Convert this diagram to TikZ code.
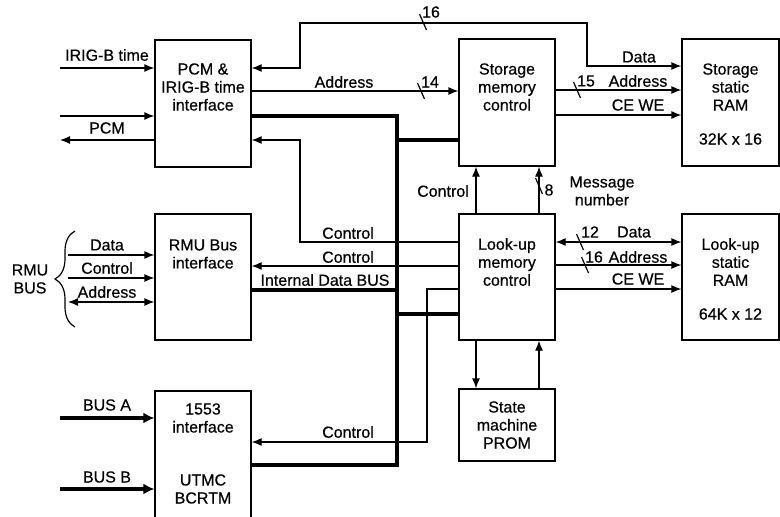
\documentclass[tikz,border=0pt]{standalone}
\usepackage{fontspec}
\setmainfont{Liberation Sans}[FakeBold=0.5]
\usetikzlibrary{arrows.meta,decorations.pathreplacing}
\tikzset{
  ln/.style={line width=1.2pt},
  box/.style={draw, line width=1.2pt, inner sep=0pt},
  txt/.style={font=\fontsize{16}{18}\selectfont, align=center, inner sep=0pt},
  arr/.style={ln, -{Latex[length=10pt,width=8pt]}},
  darr/.style={ln, {Latex[length=10pt,width=8pt]}-{Latex[length=10pt,width=8pt]}},
  bus/.style={line width=3.3pt},
  busarr/.style={line width=3.3pt, -{Latex[length=11pt,width=11pt]}},
}
\newcommand{\bslash}[2]{\draw[ln] (#1,#2) ++(-3.5,-8) -- ++(7,16);}
\begin{document}
\begin{tikzpicture}[x=1pt,y=-1pt]
\useasboundingbox (0,0) rectangle (780,517);
% boxes
\node[box, minimum width=96pt, minimum height=127pt] (pcm) at (203,103.5) {};
\node[box, minimum width=96pt, minimum height=127pt] (smc) at (507,102.5) {};
\node[box, minimum width=97pt, minimum height=127pt] (sram) at (730.5,102.5) {};
\node[box, minimum width=96pt, minimum height=126pt] (lmc) at (507,277) {};
\node[box, minimum width=97pt, minimum height=126pt] (lram) at (730.5,277) {};
\node[box, minimum width=96pt, minimum height=126pt] (rmu) at (203,277) {};
\node[box, minimum width=96pt, minimum height=131pt] (u1553) at (203,456.5) {};
\node[box, minimum width=96pt, minimum height=72pt] (prom) at (507,425) {};
% box texts
\node[txt] (pcmt) at (203,87) {PCM \&\\IRIG-B time\\interface};
\node[txt] (smct) at (507,87) {Storage\\memory\\control};
\node[txt] (sramt) at (730.5,87) {Storage\\static\\RAM};
\node[txt] (sramsz) at (730.5,139) {32K x 16};
\node[txt] (lmct) at (507,262) {Look-up\\memory\\control};
\node[txt] (lramt) at (730.5,262) {Look-up\\static\\RAM};
\node[txt] (lramsz) at (730.5,314) {64K x 12};
\node[txt] (rmut) at (203,254) {RMU Bus\\interface};
\node[txt] (u1553a) at (203,418) {1553\\interface};
\node[txt] (u1553b) at (203,489) {UTMC\\BCRTM};
\node[txt] (promt) at (507,425) {State\\machine\\PROM};
% PCM side inputs
\coordinate (irig) at (60,68);
\coordinate (pcmin) at (60,116);
\coordinate (pcmout) at (60,140);
\draw[arr] (irig) -- (irig -| pcm.west);
\draw[arr] (pcmin) -- (pcmin -| pcm.west);
\draw[arr] (pcmout -| pcm.west) -- (pcmout);
\node[txt] (lirig) at (107,55) {IRIG-B time};
\node[txt] (lpcm) at (107,128) {PCM};
% 16-bit data path
\coordinate (d1) at (300,23);
\coordinate (d2) at (587,66);
\draw[darr] (pcm.east |- 0,68) -| (d1) -| (d2) -- (d2 -| sram.west);
\bslash{423}{22}
\node[txt] (l16a) at (431,12) {16};
% Address PCM -> storage control
\draw[arr] (pcm.east |- 0,91) -- (smc.west |- 0,91);
\node[txt] (laddr1) at (344,82) {Address};
\bslash{421}{91}
\node[txt] (l14) at (430,82) {14};
% storage control -> storage RAM
\draw[arr] (smc.east |- 0,90) -- (sram.west |- 0,90);
\draw[arr] (smc.east |- 0,115) -- (sram.west |- 0,115);
\bslash{577}{90}
\node[txt] (l15) at (586,81) {15};
\node[txt] (ldata1) at (639,57) {Data};
\node[txt] (laddr2) at (638,81) {Address};
\node[txt] (lcewe1) at (638,105) {CE WE};
% look-up control -> look-up RAM
\draw[darr] (lmc.east |- 0,242) -- (lram.west |- 0,242);
\draw[arr] (lmc.east |- 0,265) -- (lram.west |- 0,265);
\draw[arr] (lmc.east |- 0,289) -- (lram.west |- 0,289);
\bslash{580}{242}
\node[txt] (l12) at (590,232) {12};
\bslash{585}{265}
\node[txt] (l16b) at (594,257) {16};
\node[txt] (ldata2) at (634,232) {Data};
\node[txt] (laddr3) at (638,257) {Address};
\node[txt] (lcewe2) at (638,279) {CE WE};
% look-up <-> storage control
\draw[arr] (lmc.north -| 476,0) -- (smc.south -| 476,0);
\draw[arr] (lmc.north -| 539,0) -- (smc.south -| 539,0);
\bslash{539}{186}
\node[txt] (lctrl) at (443,191) {Control};
\node[txt] (l8) at (549,190) {8};
\node[txt] (lmsg) at (602,191) {Message\\number};
% look-up <-> PROM
\draw[arr] (lmc.south -| 476,0) -- (prom.north -| 476,0);
\draw[arr] (prom.north -| 539,0) -- (lmc.south -| 539,0);
% internal data bus (thick)
\coordinate (b1) at (397,116);
\coordinate (b2) at (397,465);
\draw[bus] (pcm.east |- b1) -- (b1) -- (b2) -- (u1553.east |- b2);
\draw[bus] (397,140) -- (smc.west |- 0,140);
\draw[bus] (397,314) -- (lmc.west |- 0,314);
\draw[bus] (rmu.east |- 0,290) -- (397,290);
\node[txt] (lidb) at (325,280) {Internal Data BUS};
% control lines from look-up control
\coordinate (c1) at (300,242);
\draw[arr] (lmc.west |- c1) -- (c1) -- (c1 |- 0,140) -- (pcm.east |- 0,140);
\node[txt] (lc1) at (348,233) {Control};
\draw[arr] (lmc.west |- 0,266) -- (rmu.east |- 0,266);
\node[txt] (lc2) at (348,257) {Control};
\coordinate (c3) at (427,289);
\draw[arr] (lmc.west |- c3) -- (c3) -- (c3 |- 0,442) -- (u1553.east |- 0,442);
\node[txt] (lc3) at (348,432) {Control};
% RMU bus side
\draw[arr] (68,255) -- (rmu.west |- 0,255);
\draw[arr] (68,278) -- (rmu.west |- 0,278);
\draw[darr] (68,302) -- (rmu.west |- 0,302);
\node[txt] (lrd) at (107,245) {Data};
\node[txt] (lrc) at (107,268) {Control};
\node[txt] (lra) at (107,292) {Address};
\coordinate (brb) at (75,327);
\coordinate (brt) at (75,231);
\draw[ln, decorate, decoration={brace, amplitude=20pt}] (brb) -- (brt);
\node[txt] (lrmu) at (30,279) {RMU\\BUS};
% 1553 buses
\draw[busarr] (60,418) -- (u1553.west |- 0,418);
\draw[busarr] (60,489) -- (u1553.west |- 0,489);
\node[txt] (lba) at (107,405) {BUS A};
\node[txt] (lbb) at (107,477) {BUS B};
\end{tikzpicture}
\end{document}
